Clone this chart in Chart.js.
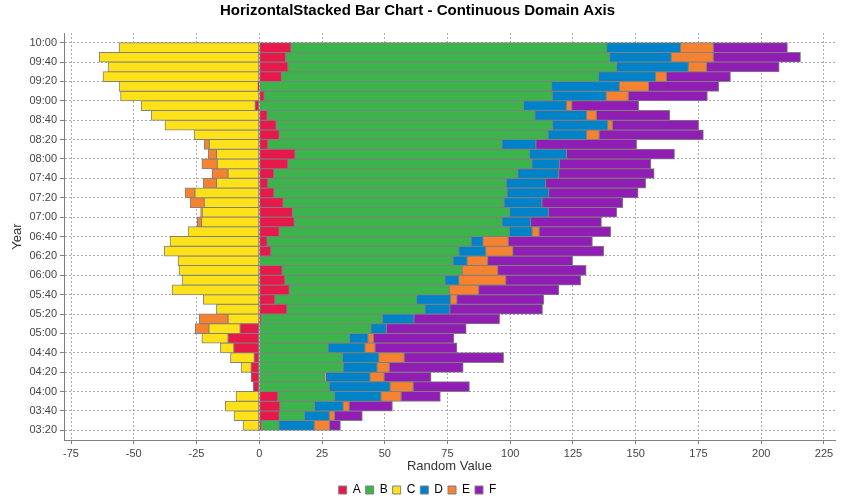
<!DOCTYPE html>
<html>
<head>
<meta charset="utf-8">
<script src="https://cdn.jsdelivr.net/npm/chart.js@4.4.1/dist/chart.umd.min.js"></script>
<style>
html,body{margin:0;padding:0;background:#ffffff;}
#wrap{width:845px;height:500px;}
</style>
</head>
<body>
<div id="wrap"><canvas id="c" width="845" height="500"></canvas></div>
<script>
// start time of each 10-minute bar (bottom to top)
const times = ["03:20","03:30","03:40","03:50","04:00","04:10","04:20","04:30","04:40","04:50",
               "05:00","05:10","05:20","05:30","05:40","05:50","06:00","06:10","06:20","06:30",
               "06:40","06:50","07:00","07:10","07:20","07:30","07:40","07:50","08:00","08:10",
               "08:20","08:30","08:40","08:50","09:00","09:10","09:20","09:30","09:40","09:50"];

const seriesA = [0.7, 7.9, 8.2, 7.4, -2.3, -3.2, -3.2, -2.0, -10.1, -12.4,
                 -7.6, 0.6, 11.0, 6.2, 11.9, 10.2, 9.1, 0, 4.6, 3.1,
                 7.9, 13.9, 13.2, 9.5, 5.8, 3.4, 5.8, 11.4, 14.2, 3.4,
                 7.9, 6.7, 3.1, -1.6, 1.9, -0.4, 8.8, 11.4, 10.5, 12.6];
const seriesB = [7.1, 10.1, 13.8, 22.6, 27.9, 26.0, 33.4, 33.1, 27.4, 35.9,
                 44.5, 48.4, 55.0, 56.5, 63.8, 63.8, 71.7, 77.2, 74.9, 81.3,
                 91.7, 82.8, 86.6, 88.0, 92.9, 95.0, 97.2, 97.2, 93.5, 93.3,
                 107.1, 110.1, 106.7, 105.3, 114.8, 116.5, 126.4, 131.0, 129.1, 125.8];
const seriesC = [-6.4, -10.0, -13.5, -9.2, 0, 0.4, -4.0, -9.4, -5.3, -10.4,
                 -12.4, -12.4, -17.0, -22.2, -34.7, -30.7, -31.9, -32.3, -37.8, -35.5,
                 -28.3, -23.0, -22.7, -21.9, -25.6, -17.0, -12.4, -16.7, -17.0, -19.9,
                 -25.9, -37.5, -43.0, -45.4, -55.2, -55.4, -62.2, -60.2, -63.7, -55.8];
const seriesD = [14.1, 9.9, 11.4, 18.5, 24.2, 17.7, 13.5, 14.5, 14.7, 7.4,
                 6.1, 12.6, 9.9, 13.5, 0, 5.5, 0, 5.6, 10.7, 4.7,
                 9.1, 11.4, 15.4, 15.1, 16.6, 15.7, 16.3, 11.0, 14.7, 13.5,
                 15.4, 22.0, 20.6, 17.1, 21.5, 27.0, 22.7, 28.5, 24.5, 29.4];
const seriesE = [6.1, 2.1, 2.4, 8.0, 9.2, 5.6, 4.9, 10.1, 4.0, 2.2,
                 -5.4, -11.4, 0, 2.5, 11.7, 18.7, 14.2, 8.2, 10.8, 10.1,
                 2.8, -1.6, -0.6, -5.6, -3.9, -5.2, -6.4, -6.1, -3.3, -2.0,
                 5.0, 1.9, 3.9, 2.1, 8.8, 11.6, 4.3, 7.3, 16.8, 13.1];
const seriesF = [4.3, 11.0, 17.2, 15.6, 22.4, 18.7, 29.4, 39.6, 32.6, 32.0,
                 31.8, 34.1, 36.9, 34.6, 31.9, 29.8, 35.2, 33.8, 36.2, 33.5,
                 28.5, 28.2, 27.2, 32.2, 35.6, 39.8, 38.0, 36.4, 43.0, 40.1,
                 41.5, 34.3, 29.2, 26.6, 31.5, 27.9, 25.5, 28.9, 34.7, 29.5];

const seriesNames = ["A","B","C","D","E","F"];
const yTickLabels = ["03:20","03:40","04:00","04:20","04:40","05:00","05:20","05:40","06:00","06:20",
                     "06:40","07:00","07:20","07:40","08:00","08:20","08:40","09:00","09:20","09:40","10:00"];
const xTickValues = [-75,-50,-25,0,25,50,75,100,125,150,175,200,225];

const colors = ['#e6194b','#3cb44b','#ffe119','#0082c8','#f58231','#911eb4'];
const FONT = "'Liberation Sans', Arial, sans-serif";
const SLOT = 10; // minutes covered by a bar

const toMin = s => { const p = s.split(':').map(Number); return p[0]*60 + p[1]; };
const fmt = v => String(Math.floor(v/60)).padStart(2,'0') + ':' + String(Math.round(v%60)).padStart(2,'0');

function points(vals){
  return times.map((t,i) => ({ x: vals[i] === 0 ? null : vals[i], y: toMin(t) + SLOT/2 }));
}

const allSeries = [seriesA, seriesB, seriesC, seriesD, seriesE, seriesF];
const datasets = allSeries.map((vals, k) => ({
  label: seriesNames[k],
  data: points(vals),
  backgroundColor: colors[k],
  borderColor: '#808080',
  borderWidth: 1,
  borderSkipped: false,
  inflateAmount: 0.5,
  barPercentage: 1.0,
  categoryPercentage: 1.0
}));

new Chart(document.getElementById('c'), {
  type: 'bar',
  data: { datasets },
  options: {
    indexAxis: 'y',
    responsive: false,
    animation: false,
    events: [],
    layout: { padding: { left: 0, right: 10, top: 0, bottom: -6 } },
    plugins: {
      title: {
        display: true,
        text: 'HorizontalStacked Bar Chart - Continuous Domain Axis',
        font: { family: FONT, size: 15, weight: 'bold' },
        color: '#000000',
        padding: { top: 2, bottom: 13 }
      },
      legend: {
        position: 'bottom',
        labels: {
          boxWidth: 8, boxHeight: 8,
          font: { family: FONT, size: 12 },
          color: '#000000',
          padding: 5
        }
      },
      tooltip: { enabled: false }
    },
    scales: {
      x: {
        type: 'linear',
        stacked: true,
        min: -77.8,
        max: 229.4,
        afterBuildTicks: s => { s.ticks = xTickValues.map(v => ({ value: v })); },
        afterFit: s => { s.height = 39; s.paddingLeft = 0; s.paddingRight = 0; },
        grid: { color: '#aaaaaa', lineWidth: 1, tickLength: 4, tickColor: '#808080', tickWidth: 1 },
        border: { display: true, color: '#808080', width: 1, dash: [2, 2] },
        ticks: { font: { family: FONT, size: 11 }, color: '#444444', padding: 3, maxRotation: 0 },
        title: { display: true, text: 'Random Value', font: { family: FONT, size: 13 }, color: '#333333', padding: { top: 0, bottom: 5 } }
      },
      y: {
        type: 'linear',
        stacked: true,
        offset: false,
        min: 190,
        max: 610,
        afterBuildTicks: s => { s.ticks = yTickLabels.map(l => ({ value: toMin(l) })); },
        afterFit: s => { s.width = 64; s.paddingTop = 0; s.paddingBottom = 0; },
        grid: { offset: false, color: '#aaaaaa', lineWidth: 1, tickLength: 4, tickColor: '#808080', tickWidth: 1 },
        border: { display: true, color: '#808080', width: 1, dash: [2, 2] },
        ticks: { font: { family: FONT, size: 11 }, color: '#444444', padding: 3, callback: v => fmt(v) },
        title: { display: true, text: 'Year', font: { family: FONT, size: 13 }, color: '#333333', padding: { top: 10, bottom: 0 } }
      }
    }
  }
});
</script>
</body>
</html>
